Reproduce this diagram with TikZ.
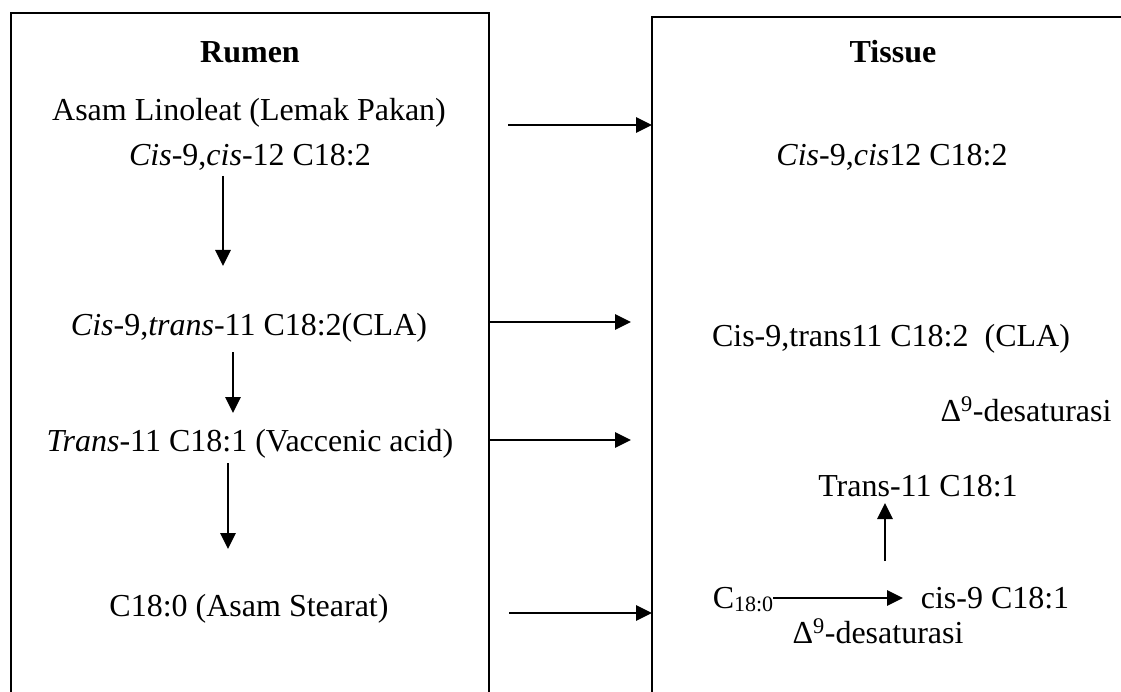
\documentclass[tikz,border=0pt]{standalone}
\usepackage{fontspec}
\setmainfont{Liberation Serif}
\usetikzlibrary{arrows.meta}
\newcommand{\dsat}{Δ\textsuperscript{9}-desaturasi}
\begin{document}
\begin{tikzpicture}[x=1pt,y=-1pt,
  txt/.style={font=\fontsize{32}{38}\selectfont, inner sep=0pt, anchor=base},
  ttl/.style={font=\fontsize{32}{38}\selectfont\bfseries, inner sep=0pt, anchor=base},
  box/.style={line width=1.8pt},
  arr/.style={line width=2.9pt, -{Triangle[length=16pt,width=15pt]}}]
\useasboundingbox (0,0) rectangle (1121,692);
% boxes (open at the bottom)
\draw[box] (11,692) -- (11,13) -- (489,13) -- (489,692);
\draw[box] (1121,17) -- (652,17) -- (652,692);
% Rumen column
\node[ttl] (rumen) at (250,63) {Rumen};
\node[txt] (lin) at (249,121) {Asam Linoleat (Lemak Pakan)};
\node[txt] (cc) at (250,166) {\textit{Cis}-9,\textit{cis}-12 C18:2};
\node[txt] (cla) at (249,336) {\textit{Cis}-9,\textit{trans}-11 C18:2(CLA)};
\node[txt] (vac) at (250,451) {\textit{Trans}-11 C18:1 (Vaccenic acid)};
\node[txt] (ste) at (249,616) {C18:0 (Asam Stearat)};
% Tissue column
\node[ttl] (tis) at (893,63) {Tissue};
\node[txt] (tcc) at (892,166) {\textit{Cis}-9,\textit{cis}12 C18:2};
\node[txt] (tcla) at (891,346) {Cis-9,trans11 C18:2\ \ (CLA)};
\node[txt] (d1) at (1026,421) {\dsat};
\node[txt] (ttr) at (918,496) {Trans-11 C18:1};
\node[txt] (tc18) at (743,608) {C\raisebox{-0.12em}{\fontsize{22}{24}\selectfont 18:0}};
\node[txt] (tcis) at (995,608) {cis-9 C18:1};
\node[txt] (d2) at (878,643) {\dsat};
% coordinates
\coordinate (v1a) at (223,176);
\coordinate (v1b) at (223,266);
\coordinate (v2a) at (233,352);
\coordinate (v2b) at (233,413);
\coordinate (v3a) at (228,463);
\coordinate (v3b) at (228,549);
\coordinate (h1a) at (508,125);
\coordinate (h1b) at (652,125);
\coordinate (h2a) at (489,322);
\coordinate (h2b) at (631,322);
\coordinate (h3a) at (489,440);
\coordinate (h3b) at (631,440);
\coordinate (h4a) at (509,613);
\coordinate (h4b) at (652,613);
\coordinate (ua) at (885,561);
\coordinate (ub) at (885,503);
\coordinate (ra) at (773,598);
\coordinate (rb) at (903,598);
% arrows
\draw[arr] (v1a) -- (v1b);
\draw[arr] (v2a) -- (v2b);
\draw[arr] (v3a) -- (v3b);
\draw[arr] (h1a) -- (h1b);
\draw[arr] (h2a) -- (h2b);
\draw[arr] (h3a) -- (h3b);
\draw[arr] (h4a) -- (h4b);
\draw[arr] (ua) -- (ub);
\draw[arr] (ra) -- (rb);
\end{tikzpicture}
\end{document}
